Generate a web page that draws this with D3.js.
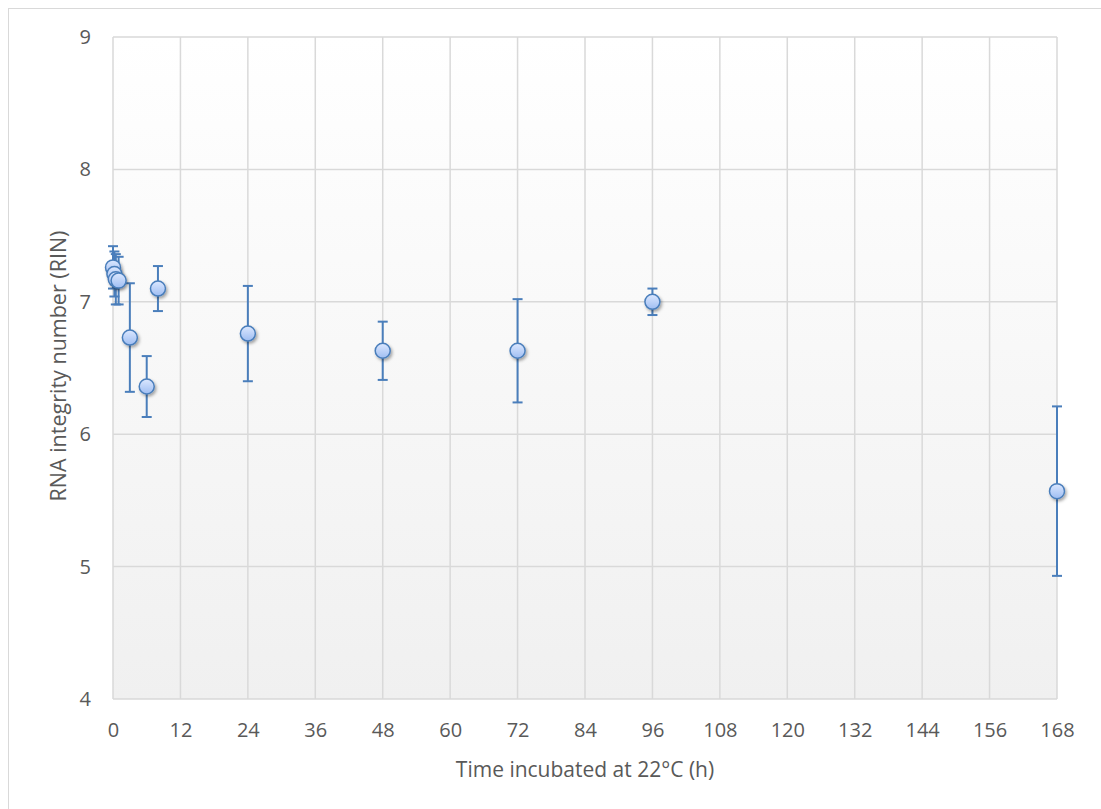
<!DOCTYPE html>
<html><head><meta charset="utf-8">
<script src="https://cdn.jsdelivr.net/npm/d3@7/dist/d3.min.js"></script>
<style>body{margin:0;background:#fff}svg{display:block}text{font-family:"Open Sans",sans-serif;fill:#595959}</style>
</head><body><div id="c"></div>
<script>
const hours = [0, 0.25, 0.5, 1, 3, 6, 8, 24, 48, 72, 96, 168];
const rin   = [7.26, 7.21, 7.17, 7.16, 6.73, 6.36, 7.10, 6.76, 6.63, 6.63, 7.00, 5.57];
const err   = [0.16, 0.17, 0.19, 0.18, 0.41, 0.23, 0.17, 0.36, 0.22, 0.39, 0.10, 0.64];
const xTicks = [0,12,24,36,48,60,72,84,96,108,120,132,144,156,168];
const yTicks = [4,5,6,7,8,9];

const W=1101,H=809;
const svg=d3.select("#c").append("svg").attr("width",W).attr("height",H);
const m={l:113,r:1057,t:37,b:699};
const x=d3.scaleLinear().domain([0,168]).range([m.l,m.r]);
const y=d3.scaleLinear().domain([4,9]).range([m.b,m.t]);

const defs=svg.append("defs");
const bg=defs.append("linearGradient").attr("id","bg").attr("x1",0).attr("y1",0).attr("x2",0).attr("y2",1);
bg.append("stop").attr("offset","0%").attr("stop-color","#ffffff");
bg.append("stop").attr("offset","100%").attr("stop-color","#f0f0f0");
const mk=defs.append("linearGradient").attr("id","mk").attr("x1",0).attr("y1",0).attr("x2",0).attr("y2",1);
mk.append("stop").attr("offset","0%").attr("stop-color","#dce8ff");
mk.append("stop").attr("offset","100%").attr("stop-color","#9ebdf2");
const sh=defs.append("filter").attr("id","sh").attr("x","-50%").attr("y","-50%").attr("width","200%").attr("height","200%");
sh.append("feDropShadow").attr("dx",1.5).attr("dy",2).attr("stdDeviation",1.5).attr("flood-color","#000").attr("flood-opacity",0.35);

// outer border
svg.append("rect").attr("x",8.5).attr("y",8.5).attr("width",W).attr("height",H).attr("fill","none").attr("stroke","#d9d9d9");

svg.append("rect").attr("x",m.l).attr("y",m.t).attr("width",m.r-m.l).attr("height",m.b-m.t).attr("fill","url(#bg)");

// grid
svg.append("g").selectAll("line").data(xTicks).join("line")
  .attr("x1",d=>x(d)).attr("x2",d=>x(d)).attr("y1",m.t).attr("y2",m.b)
  .attr("stroke","#d9d9d9").attr("stroke-width",1.5);
svg.append("g").selectAll("line").data(yTicks).join("line")
  .attr("x1",m.l).attr("x2",m.r).attr("y1",d=>y(d)).attr("y2",d=>y(d))
  .attr("stroke","#d9d9d9").attr("stroke-width",1.5);

// axes via d3
const xa=svg.append("g").attr("transform",`translate(0,${m.b})`)
  .call(d3.axisBottom(x).tickValues(xTicks).tickSize(0).tickPadding(24));
xa.select(".domain").remove();
xa.selectAll("text").attr("font-size",20).attr("fill","#595959").style("font-family","'Open Sans',sans-serif");
const ya=svg.append("g").attr("transform",`translate(${m.l},0)`)
  .call(d3.axisLeft(y).tickValues(yTicks).tickFormat(d3.format("d")).tickSize(0).tickPadding(22));
ya.select(".domain").remove();
ya.selectAll("text").attr("font-size",20).attr("fill","#595959").style("font-family","'Open Sans',sans-serif");

// titles
svg.append("text").attr("x",585).attr("y",777).attr("text-anchor","middle").attr("font-size",21).text("Time incubated at 22°C (h)");
svg.append("text").attr("transform",`translate(58,366) rotate(-90)`).attr("text-anchor","middle").attr("dy","0.35em").attr("font-size",21.5).text("RNA integrity number (RIN)");

const data=hours.map((h,i)=>({h,v:rin[i],e:err[i]}));
const eb=svg.append("g").attr("stroke","#4a7ebb").attr("stroke-width",2).attr("fill","none");
data.forEach(d=>{
  const cx=x(d.h), t=y(d.v+d.e), b=y(d.v-d.e);
  eb.append("line").attr("x1",cx).attr("x2",cx).attr("y1",t).attr("y2",b);
  eb.append("line").attr("x1",cx).attr("x2",cx+10).attr("y1",t).attr("y2",t).attr("transform","translate(-5,0)");
  eb.append("line").attr("x1",cx).attr("x2",cx+10).attr("y1",b).attr("y2",b).attr("transform","translate(-5,0)");
});
svg.append("g").selectAll("circle").data(data).join("circle")
  .attr("cx",d=>x(d.h)).attr("cy",d=>y(d.v)).attr("r",7.5)
  .attr("fill","url(#mk)").attr("stroke","#4a7ebb").attr("stroke-width",1.5).attr("filter","url(#sh)");
</script></body></html>
